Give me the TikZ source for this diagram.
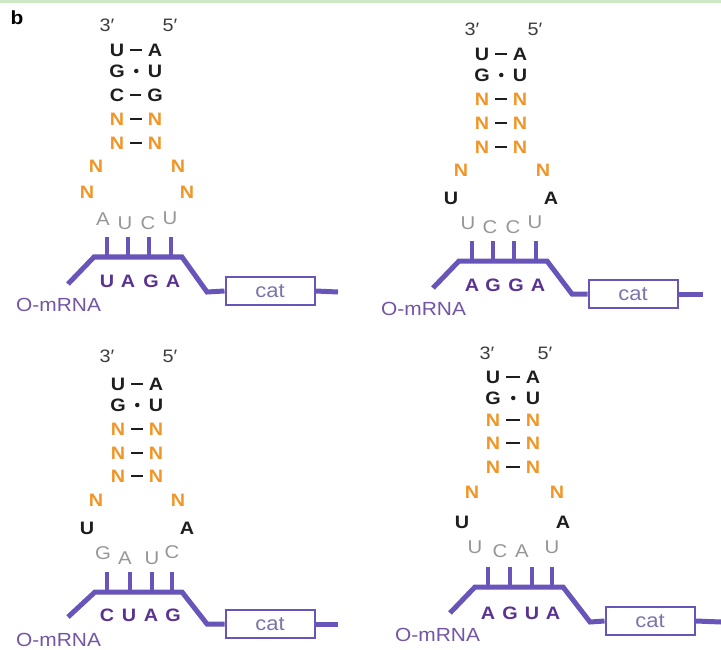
\documentclass[tikz,border=0pt]{standalone}
\usepackage{fontspec}
\setmainfont{Liberation Sans}[FakeStretch=1.1]
\usepackage{tikz}
\definecolor{stemdark}{RGB}{30,30,30}
\definecolor{ntorange}{RGB}{240,150,40}
\definecolor{antigray}{RGB}{150,150,150}
\definecolor{mrnaline}{RGB}{105,85,185}
\definecolor{codonpurple}{RGB}{90,50,145}
\definecolor{mrnatext}{RGB}{115,85,165}
\definecolor{cattext}{RGB}{125,115,170}
\definecolor{primegray}{RGB}{60,60,60}
\definecolor{topgreen}{RGB}{205,230,195}
\tikzstyle{nt} = [inner sep=0pt, minimum width=13pt, minimum height=13pt, font=\fontsize{18}{20}\selectfont\bfseries]
\tikzstyle{blk} = [nt, text=stemdark]
\tikzstyle{var} = [nt, text=ntorange]
\tikzstyle{anti} = [nt, text=antigray, font=\fontsize{18.5}{20}\selectfont]
\tikzstyle{codon} = [nt, text=codonpurple]
\tikzstyle{prime} = [inner sep=0pt, text=primegray, font=\fontsize{18}{20}\selectfont]
\tikzstyle{pair} = [stemdark, line width=2pt, shorten <=6pt, shorten >=6pt]
\tikzstyle{gu} = [circle, fill=stemdark, inner sep=0pt, minimum size=4.5pt]
\tikzstyle{backbone} = [mrnaline, line width=5pt, line join=miter]
\tikzstyle{rung} = [mrnaline, line width=4pt]
\tikzstyle{gene} = [draw=mrnaline, line width=2pt, fill=white, minimum width=89pt, minimum height=28pt, inner sep=0pt, text=cattext, font=\fontsize{20}{22}\selectfont]
\tikzstyle{mrna} = [anchor=west, inner sep=0pt, text=mrnatext, font=\fontsize{19}{21}\selectfont]

\begin{document}
\begin{tikzpicture}[x=1pt, y=-1pt]
  \useasboundingbox (0,0) rectangle (721,650);
  \fill [topgreen] (0,0) rectangle (721,3);
  \node (bLab) at (17,18) [inner sep=0pt, font=\fontsize{19}{20}\selectfont\bfseries] {b};

  % top left
  \begin{scope}
  \node (a3) at (107,25) [prime] {3′};
  \node (a5) at (170,25) [prime] {5′};
  \node (aL1) at (117,50) [blk] {U};
  \node (aR1) at (155,50) [blk] {A};
  \node (aL2) at (117,71) [blk] {G};
  \node (aR2) at (155,71) [blk] {U};
  \node (aL3) at (117,95) [blk] {C};
  \node (aR3) at (155,95) [blk] {G};
  \node (aL4) at (117,119) [var] {N};
  \node (aR4) at (155,119) [var] {N};
  \node (aL5) at (117,143) [var] {N};
  \node (aR5) at (155,143) [var] {N};
  \node (aL6) at (96,166) [var] {N};
  \node (aR6) at (178,166) [var] {N};
  \node (aL7) at (87,192) [var] {N};
  \node (aR7) at (187,192) [var] {N};
  \node (aA1) at (103,219) [anti] {A};
  \node (aA2) at (125,223) [anti] {U};
  \node (aA3) at (148,223) [anti] {C};
  \node (aA4) at (170,218) [anti] {U};
  \node (aC1) at (107,281) [codon] {U};
  \node (aC2) at (128,281) [codon] {A};
  \node (aC3) at (151,281) [codon] {G};
  \node (aC4) at (173,281) [codon] {A};
  \coordinate (aT1) at (107,237);
  \coordinate (aT2) at (128,237);
  \coordinate (aT3) at (149,237);
  \coordinate (aT4) at (171,237);
  \coordinate (aS) at (68,284);
  \coordinate (aK1) at (94,257);
  \coordinate (aK2) at (182,257);
  \coordinate (aK3) at (207,292);
  \coordinate (aE) at (338,292);
  \node (aCat) at (270,291) [gene] {cat};
  \node (aLab) at (16,305) [mrna] {O-mRNA};
  \draw [pair] (aL1) -- (aR1);
  \path (aL2) -- node [gu] {} (aR2);
  \draw [pair] (aL3) -- (aR3);
  \draw [pair] (aL4) -- (aR4);
  \draw [pair] (aL5) -- (aR5);
  \draw [rung] (aT1) -- (aT1 |- aK1);
  \draw [rung] (aT2) -- (aT2 |- aK1);
  \draw [rung] (aT3) -- (aT3 |- aK1);
  \draw [rung] (aT4) -- (aT4 |- aK1);
  \draw [backbone] (aS) -- (aK1) -- (aK2) -- (aK3) -- (aCat.west);
  \draw [backbone] (aCat.east) -- (aE);
  \end{scope}

  % top right
  \begin{scope}[shift={(365,4)}]
  \node (b3) at (107,25) [prime] {3′};
  \node (b5) at (170,25) [prime] {5′};
  \node (bL1) at (117,50) [blk] {U};
  \node (bR1) at (155,50) [blk] {A};
  \node (bL2) at (117,71) [blk] {G};
  \node (bR2) at (155,71) [blk] {U};
  \node (bL3) at (117,95) [var] {N};
  \node (bR3) at (155,95) [var] {N};
  \node (bL4) at (117,119) [var] {N};
  \node (bR4) at (155,119) [var] {N};
  \node (bL5) at (117,143) [var] {N};
  \node (bR5) at (155,143) [var] {N};
  \node (bL6) at (96,166) [var] {N};
  \node (bR6) at (178,166) [var] {N};
  \node (bL7) at (86,194) [blk] {U};
  \node (bR7) at (186,194) [blk] {A};
  \node (bA1) at (103,219) [anti] {U};
  \node (bA2) at (125,223) [anti] {C};
  \node (bA3) at (148,223) [anti] {C};
  \node (bA4) at (170,218) [anti] {U};
  \node (bC1) at (107,281) [codon] {A};
  \node (bC2) at (128,281) [codon] {G};
  \node (bC3) at (151,281) [codon] {G};
  \node (bC4) at (173,281) [codon] {A};
  \coordinate (bT1) at (107,237);
  \coordinate (bT2) at (128,237);
  \coordinate (bT3) at (149,237);
  \coordinate (bT4) at (171,237);
  \coordinate (bS) at (68,284);
  \coordinate (bK1) at (94,257);
  \coordinate (bK2) at (182,257);
  \coordinate (bK3) at (207,290);
  \coordinate (bE) at (338,290);
  \node (bCat) at (268,290) [gene] {cat};
  \node (bLabel) at (16,305) [mrna] {O-mRNA};
  \draw [pair] (bL1) -- (bR1);
  \path (bL2) -- node [gu] {} (bR2);
  \draw [pair] (bL3) -- (bR3);
  \draw [pair] (bL4) -- (bR4);
  \draw [pair] (bL5) -- (bR5);
  \draw [rung] (bT1) -- (bT1 |- bK1);
  \draw [rung] (bT2) -- (bT2 |- bK1);
  \draw [rung] (bT3) -- (bT3 |- bK1);
  \draw [rung] (bT4) -- (bT4 |- bK1);
  \draw [backbone] (bS) -- (bK1) -- (bK2) -- (bK3) -- (bCat.west);
  \draw [backbone] (bCat.east) -- (bE);
  \end{scope}

  % bottom left
  \begin{scope}[shift={(0,334)}]
  \node (c3) at (107,22) [prime] {3′};
  \node (c5) at (170,22) [prime] {5′};
  \node (cL1) at (118,50) [blk] {U};
  \node (cR1) at (156,50) [blk] {A};
  \node (cL2) at (118,71) [blk] {G};
  \node (cR2) at (156,71) [blk] {U};
  \node (cL3) at (118,95) [var] {N};
  \node (cR3) at (156,95) [var] {N};
  \node (cL4) at (118,119) [var] {N};
  \node (cR4) at (156,119) [var] {N};
  \node (cL5) at (118,142) [var] {N};
  \node (cR5) at (156,142) [var] {N};
  \node (cL6) at (96,166) [var] {N};
  \node (cR6) at (178,166) [var] {N};
  \node (cL7) at (87,194) [blk] {U};
  \node (cR7) at (187,194) [blk] {A};
  \node (cA1) at (103,219) [anti] {G};
  \node (cA2) at (125,224) [anti] {A};
  \node (cA3) at (152,224) [anti] {U};
  \node (cA4) at (172,218) [anti] {C};
  \node (cC1) at (107,281) [codon] {C};
  \node (cC2) at (129,281) [codon] {U};
  \node (cC3) at (151,281) [codon] {A};
  \node (cC4) at (173,281) [codon] {G};
  \coordinate (cT1) at (107,238);
  \coordinate (cT2) at (130,238);
  \coordinate (cT3) at (152,238);
  \coordinate (cT4) at (172,238);
  \coordinate (cS) at (68,283);
  \coordinate (cK1) at (95,258);
  \coordinate (cK2) at (182,258);
  \coordinate (cK3) at (207,290);
  \coordinate (cE) at (338,290);
  \node (cCat) at (270,290) [gene] {cat};
  \node (cLab) at (16,306) [mrna] {O-mRNA};
  \draw [pair] (cL1) -- (cR1);
  \path (cL2) -- node [gu] {} (cR2);
  \draw [pair] (cL3) -- (cR3);
  \draw [pair] (cL4) -- (cR4);
  \draw [pair] (cL5) -- (cR5);
  \draw [rung] (cT1) -- (cT1 |- cK1);
  \draw [rung] (cT2) -- (cT2 |- cK1);
  \draw [rung] (cT3) -- (cT3 |- cK1);
  \draw [rung] (cT4) -- (cT4 |- cK1);
  \draw [backbone] (cS) -- (cK1) -- (cK2) -- (cK3) -- (cCat.west);
  \draw [backbone] (cCat.east) -- (cE);
  \end{scope}

  % bottom right
  \begin{scope}[shift={(381,329)}]
  \node (d3) at (106,24) [prime] {3′};
  \node (d5) at (164,24) [prime] {5′};
  \node (dL1) at (112,48) [blk] {U};
  \node (dR1) at (152,48) [blk] {A};
  \node (dL2) at (112,69) [blk] {G};
  \node (dR2) at (152,69) [blk] {U};
  \node (dL3) at (112,91) [var] {N};
  \node (dR3) at (152,91) [var] {N};
  \node (dL4) at (112,114) [var] {N};
  \node (dR4) at (152,114) [var] {N};
  \node (dL5) at (112,138) [var] {N};
  \node (dR5) at (152,138) [var] {N};
  \node (dL6) at (91,163) [var] {N};
  \node (dR6) at (176,163) [var] {N};
  \node (dL7) at (81,193) [blk] {U};
  \node (dR7) at (182,193) [blk] {A};
  \node (dA1) at (94,218) [anti] {U};
  \node (dA2) at (119,222) [anti] {C};
  \node (dA3) at (141,222) [anti] {A};
  \node (dA4) at (171,218) [anti] {U};
  \node (dC1) at (107,284) [codon] {A};
  \node (dC2) at (129,284) [codon] {G};
  \node (dC3) at (151,284) [codon] {U};
  \node (dC4) at (172,284) [codon] {A};
  \coordinate (dT1) at (107,238);
  \coordinate (dT2) at (129,238);
  \coordinate (dT3) at (151,238);
  \coordinate (dT4) at (171,238);
  \coordinate (dS) at (69,284);
  \coordinate (dK1) at (94,258);
  \coordinate (dK2) at (182,258);
  \coordinate (dK3) at (209,293);
  \coordinate (dE) at (340,293);
  \node (dCat) at (269,292) [gene] {cat};
  \node (dLab) at (14,306) [mrna] {O-mRNA};
  \draw [pair] (dL1) -- (dR1);
  \path (dL2) -- node [gu] {} (dR2);
  \draw [pair] (dL3) -- (dR3);
  \draw [pair] (dL4) -- (dR4);
  \draw [pair] (dL5) -- (dR5);
  \draw [rung] (dT1) -- (dT1 |- dK1);
  \draw [rung] (dT2) -- (dT2 |- dK1);
  \draw [rung] (dT3) -- (dT3 |- dK1);
  \draw [rung] (dT4) -- (dT4 |- dK1);
  \draw [backbone] (dS) -- (dK1) -- (dK2) -- (dK3) -- (dCat.west);
  \draw [backbone] (dCat.east) -- (dE);
  \end{scope}
\end{tikzpicture}
\end{document}
